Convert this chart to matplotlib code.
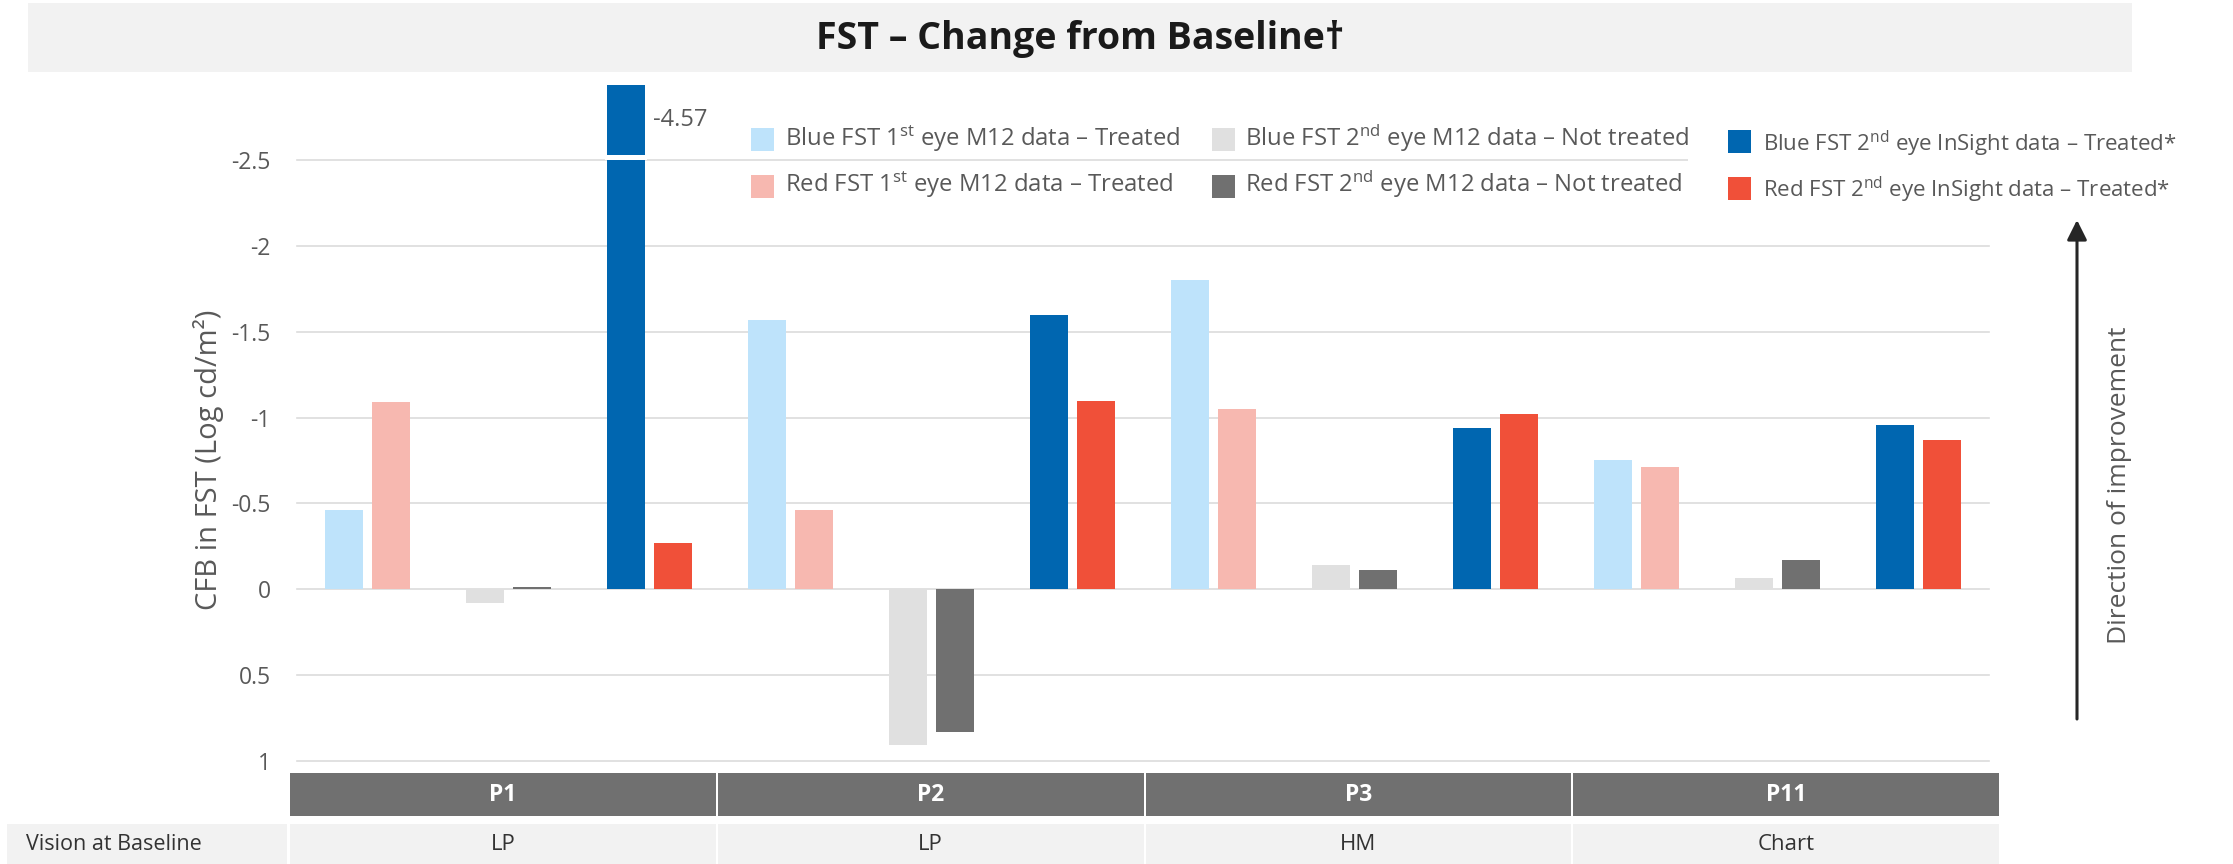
import matplotlib
matplotlib.use("Agg")
import matplotlib.pyplot as plt
from matplotlib.patches import Rectangle

plt.rcParams['font.family'] = ['Open Sans', 'DejaVu Sans']
plt.rcParams['mathtext.fontset'] = 'custom'
plt.rcParams['mathtext.rm'] = 'Open Sans'
plt.rcParams['mathtext.it'] = 'Open Sans:italic'
plt.rcParams['mathtext.bf'] = 'Open Sans:bold'

# ---- data -----------------------------------------------------------------
patients = ["P1", "P2", "P3", "P11"]
vision_at_baseline = ["LP", "LP", "HM", "Chart"]

# change from baseline in FST (Log cd/m2); negative values = improvement
blue_1st_m12 = [-0.46, -1.57, -1.80, -0.75]
red_1st_m12 = [-1.09, -0.46, -1.05, -0.71]
blue_2nd_m12 = [0.08, 0.91, -0.14, -0.065]
red_2nd_m12 = [-0.01, 0.83, -0.11, -0.17]
blue_2nd_insight = [-4.57, -1.60, -0.94, -0.955]
red_2nd_insight = [-0.27, -1.095, -1.02, -0.87]

yticks = [-2.5, -2, -1.5, -1, -0.5, 0, 0.5, 1]
ytick_labels = ["-2.5", "-2", "-1.5", "-1", "-0.5", "0", "0.5", "1"]

legend_labels = [
    "Blue FST 1$^{\\mathrm{st}}$ eye M12 data \u2013 Treated",
    "Red FST 1$^{\\mathrm{st}}$ eye M12 data \u2013 Treated",
    "Blue FST 2$^{\\mathrm{nd}}$ eye M12 data \u2013 Not treated",
    "Red FST 2$^{\\mathrm{nd}}$ eye M12 data \u2013 Not treated",
    "Blue FST 2$^{\\mathrm{nd}}$ eye InSight data \u2013 Treated*",
    "Red FST 2$^{\\mathrm{nd}}$ eye InSight data \u2013 Treated*",
]

# ---- style ----------------------------------------------------------------
LIGHT_BLUE = '#BEE3FB'
PINK = '#F7B8B0'
LIGHT_GRAY = '#E0E0E0'
DARK_GRAY = '#707070'
BLUE = '#0066B0'
RED = '#F05039'
GRID = '#DCDCDC'
TXT = '#595959'

W, H = 2233, 864
fig = plt.figure(figsize=(W / 100, H / 100), dpi=100)

ax_left, ax_right, ax_top, ax_bottom = 297, 1989, 85, 760.8
ax = fig.add_axes([ax_left / W, (H - ax_bottom) / H,
                   (ax_right - ax_left) / W, (ax_bottom - ax_top) / H])
ax.set_facecolor('none')
Y_TOP = -2.938
ax.set_ylim(1, Y_TOP)
ax.set_xlim(-0.5, 3 * len(patients) - 0.5)

for t in yticks:
    ax.axhline(t, color=GRID, lw=1.2, zorder=0, clip_on=False)

ax.set_yticks(yticks)
ax.set_yticklabels(ytick_labels)
ax.tick_params(axis='y', length=0, pad=19, labelsize=16.5, labelcolor=TXT)
ax.set_xticks([])
for s in ax.spines.values():
    s.set_visible(False)

pairs = [
    (blue_1st_m12, red_1st_m12, LIGHT_BLUE, PINK),
    (blue_2nd_m12, red_2nd_m12, LIGHT_GRAY, DARK_GRAY),
    (blue_2nd_insight, red_2nd_insight, BLUE, RED),
]
off, bw = 0.1667, 0.27
for p in range(len(patients)):
    for k, (bvals, rvals, bc, rc) in enumerate(pairs):
        c = 3 * p + k
        ax.bar(c - off, bvals[p], width=bw, color=bc, zorder=2)
        ax.bar(c + off, rvals[p], width=bw, color=rc, zorder=2)
        # bars running past the axis are broken and labelled with their value
        for xc, v in ((c - off, bvals[p]), (c + off, rvals[p])):
            if v < Y_TOP:
                ax.bar(xc, -0.026, bottom=-2.502, width=bw * 1.1,
                       color='white', zorder=3)
                ax.text(xc + bw / 2 + 0.055, (Y_TOP - 2.527) / 2,
                        f"{v:.2f}", fontsize=17, color=TXT,
                        ha='left', va='center')

fig.text(209 / W, 1 - 460 / H, "CFB in FST (Log cd/m\u00b2)", rotation=90,
         ha='center', va='center', fontsize=21, color=TXT)

# ---- overlay in pixel coordinates: banner, legend, arrow, table ----------
ov = fig.add_axes([0, 0, 1, 1], zorder=2)
ov.set_xlim(0, W)
ov.set_ylim(H, 0)
ov.axis('off')
ov.patch.set_alpha(0)

ov.add_patch(Rectangle((28, 3), 2104, 69, color='#F2F2F2', lw=0))
ov.text(1080, 39, "FST \u2013 Change from Baseline\u2020", ha='center',
        va='center', fontsize=27, fontweight='bold', color='#1A1A1A')

# legend (three columns of two entries)
ov.add_patch(Rectangle((1688, 118), 540, 92, color='white', lw=0))
leg_cols = [(751, 785, 128, 146, 17.2), (1212, 1245, 128, 146, 17.2),
            (1728, 1763, 130, 151, 16)]
leg_colors = [LIGHT_BLUE, PINK, LIGHT_GRAY, DARK_GRAY, BLUE, RED]
for i, lab in enumerate(legend_labels):
    col, row = divmod(i, 2)
    sx, tx, sy, by, fs = leg_cols[col]
    ov.add_patch(Rectangle((sx, sy + row * 47), 23, 23,
                           color=leg_colors[i], lw=0))
    ov.text(tx, by + row * 46.5, lab, fontsize=fs, color=TXT,
            ha='left', va='baseline')

# direction arrow
ov.annotate('', xy=(2077, 220), xytext=(2077, 719),
            arrowprops=dict(arrowstyle='-|>,head_length=0.6,head_width=0.3',
                            mutation_scale=20, lw=2.2, color='#262626',
                            shrinkA=0, shrinkB=0))
ov.text(2120, 485, "Direction of improvement", rotation=90, ha='center',
        va='center', fontsize=19, color=TXT)

# table under the chart
t_left, t_right = 289, 2000
cw = (t_right - t_left) / len(patients)
for i, (pname, vis) in enumerate(zip(patients, vision_at_baseline)):
    x0 = t_left + i * cw
    ov.add_patch(Rectangle((x0 + 1, 773), cw - 2, 43, color=DARK_GRAY, lw=0))
    ov.add_patch(Rectangle((x0 + 1, 824), cw - 2, 42, color='#F2F2F2', lw=0))
    ov.text(x0 + cw / 2, 795, pname, ha='center', va='center', fontsize=16.5,
            fontweight='bold', color='white')
    ov.text(x0 + cw / 2, 845, vis, ha='center', va='center', fontsize=16,
            color='#333333')
ov.add_patch(Rectangle((7, 824), 280, 42, color='#F2F2F2', lw=0))
ov.text(26, 845, "Vision at Baseline", ha='left', va='center', fontsize=15.5,
        color='#333333')

fig.savefig('out.png', dpi=100)
